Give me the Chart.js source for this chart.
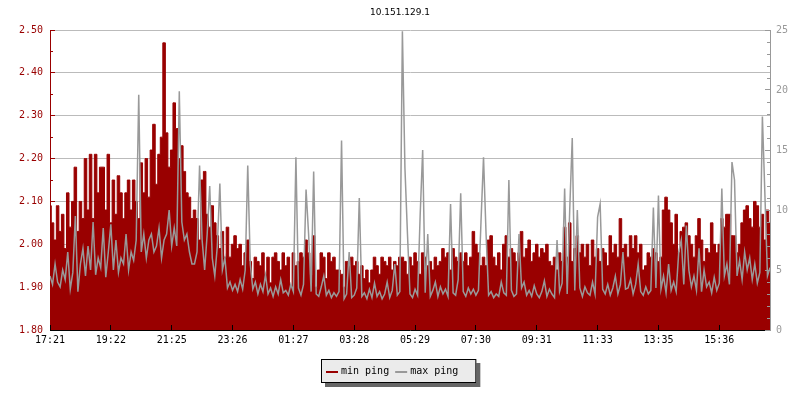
<!DOCTYPE html>
<html>
<head>
<meta charset="utf-8">
<title>10.151.129.1</title>
<script src="https://cdn.jsdelivr.net/npm/chart.js@4.4.1/dist/chart.umd.min.js"></script>
<style>
  html, body { margin: 0; padding: 0; background: #fff; }
</style>
</head>
<body>
<canvas id="ping" width="800" height="400"></canvas>
<script>
// ping history for one host, one sample every ~5 min
const hostName = '10.151.129.1';
const timeLabels = ['17:21', '19:22', '21:25', '23:26', '01:27', '03:28',
                    '05:29', '07:30', '09:31', '11:33', '13:35', '15:36'];
const samplesPerLabel = 24;

// min ping, left axis (ms)
const minPing = [
  2.09, 2.05, 2.01, 2.09, 2.03, 2.07, 1.99, 2.12, 2.04, 2.10,
  2.18, 2.03, 2.10, 2.06, 2.20, 2.08, 2.21, 2.06, 2.21, 2.12,
  2.18, 2.18, 2.08, 2.21, 2.05, 2.15, 2.07, 2.16, 2.12, 2.06,
  2.12, 2.15, 2.08, 2.15, 2.10, 2.06, 2.19, 2.12, 2.20, 2.11,
  2.22, 2.28, 2.14, 2.21, 2.25, 2.47, 2.26, 2.18, 2.22, 2.33,
  2.27, 2.20, 2.23, 2.17, 2.12, 2.11, 2.06,
  2.08, 2.06, 2.01, 2.15, 2.17, 2.07, 2.04, 2.09, 2.05, 2.02,
  1.99, 2.03, 1.97, 2.04, 1.97, 2.00, 2.02, 1.99, 2.00, 1.95,
  1.98, 2.01, 1.96, 1.92, 1.97, 1.96, 1.95, 1.98, 1.93, 1.97,
  1.91, 1.97, 1.98, 1.96, 1.94, 1.98, 1.95, 1.97, 1.90, 1.98,
  1.95, 1.96, 1.98, 1.97, 2.01, 1.98, 1.93, 2.02, 1.90, 1.94,
  1.98, 1.97, 1.92, 1.98, 1.96, 1.97, 1.94,
  1.94, 1.93, 1.90, 1.96, 1.95, 1.97, 1.95, 1.96, 1.93, 1.95,
  1.92, 1.94, 1.91, 1.94, 1.97, 1.95, 1.93, 1.97, 1.96, 1.95,
  1.97, 1.94, 1.96, 1.95, 1.97, 1.97, 1.96, 1.93, 1.97, 1.95,
  1.98, 1.96, 1.93, 1.98, 1.97, 1.95, 1.96, 1.94, 1.97, 1.95,
  1.96, 1.99, 1.97, 1.98, 1.94, 1.99, 1.97, 1.96, 1.98, 1.96,
  1.98, 1.95, 1.97, 2.03, 2.00, 1.98, 1.95,
  1.97, 1.95, 2.01, 2.02, 1.97, 1.95, 1.98, 1.94, 2.00, 2.02,
  1.97, 1.99, 1.98, 1.96, 1.98, 2.03, 1.97, 1.99, 2.01, 1.96,
  1.98, 2.00, 1.97, 1.99, 1.98, 2.00, 1.96, 1.95, 1.97, 1.94,
  1.98, 1.96, 2.04, 1.97, 2.05, 1.96, 1.99, 2.02, 1.98, 2.00,
  1.97, 2.00, 1.95, 2.01, 1.97, 1.99, 1.96, 1.99, 1.98, 1.95,
  2.02, 1.98, 2.00, 1.97, 2.06, 1.99, 2.00,
  1.97, 2.02, 1.99, 2.02, 1.98, 2.00, 1.94, 1.95, 1.98, 1.97,
  1.99, 1.98, 1.96, 1.97, 2.08, 2.11, 2.08, 2.05, 2.00, 2.07,
  1.98, 2.03, 2.04, 2.05, 2.02, 2.00, 1.97, 2.02, 2.06, 2.01,
  1.96, 1.99, 1.98, 2.05, 2.00, 1.98, 2.00, 2.06, 2.04, 2.07,
  2.07, 2.02, 2.02, 1.98, 2.00, 2.05, 2.08, 2.09, 2.06, 2.04,
  2.10, 2.09, 2.04, 2.07, 2.01, 2.08, 2.05
];

// max ping, right axis (ms)
const maxPing = [
  4.5, 3.8, 5.5, 4.0, 3.6, 5.0, 4.2, 6.5, 3.4, 4.8,
  9.5, 3.2, 5.5, 6.8, 4.5, 7.0, 5.0, 9.0, 4.6, 6.0,
  5.2, 8.5, 4.4, 6.5, 8.8, 5.0, 7.5, 4.8, 6.0, 5.5,
  8.0, 5.0, 6.5, 5.8, 7.5, 19.6, 6.5, 8.0, 6.0, 7.5,
  8.0, 6.5, 7.0, 8.5, 6.0, 7.5, 8.0, 10.0, 7.0, 8.5,
  7.0, 19.9, 9.0, 7.5, 8.0, 6.5, 5.5,
  5.5, 6.5, 13.7, 7.5, 5.0, 8.0, 12.0, 6.0, 4.5, 7.0,
  12.2, 5.0, 6.0, 3.5, 4.0, 3.3, 3.8, 3.2, 4.2, 3.4,
  5.0, 13.7, 5.5, 3.4, 4.0, 3.0, 3.8, 3.2, 4.6, 3.0,
  3.5, 2.8, 3.6, 3.0, 4.2, 3.1, 3.3, 2.9, 3.8, 3.2,
  14.4, 3.5, 2.9, 3.8, 11.7, 8.0, 3.2, 13.2, 3.0, 2.8,
  3.6, 4.5, 2.9, 3.3, 2.7, 3.1, 2.8,
  3.2, 15.8, 2.6, 3.0, 6.5, 2.7, 2.9, 3.5, 11.0, 2.8,
  3.1, 2.6, 3.4, 2.7, 3.9, 2.8, 3.2, 2.6, 3.0, 4.0,
  2.7, 3.3, 5.5, 2.9, 3.2, 24.9, 13.5, 8.0, 3.0, 2.7,
  3.4, 2.9, 9.5, 15.0, 3.1, 8.0, 2.8, 3.3, 4.0, 2.8,
  3.6, 3.0, 3.4, 2.8, 10.5, 3.1, 2.9, 4.2, 11.4, 3.2,
  2.8, 3.5, 3.0, 3.4, 2.9, 3.3, 9.0,
  14.4, 8.0, 2.9, 3.2, 2.7, 3.0, 2.8, 4.0, 3.1, 2.9,
  12.5, 3.3, 2.8, 3.0, 8.0, 3.5, 4.0, 2.9, 3.3, 2.8,
  3.7, 3.0, 2.7, 3.2, 4.1, 2.8, 3.4, 3.0, 2.7, 7.5,
  3.2, 3.9, 11.8, 3.0, 10.0, 16.0, 3.3, 10.0, 3.5, 2.8,
  3.6, 3.1, 2.9, 4.0, 3.0, 9.4, 10.5, 3.4, 3.0, 3.8,
  2.9, 3.5, 4.5, 3.0, 3.8, 6.5, 3.4,
  3.5, 4.2, 3.0, 3.8, 5.5, 3.2, 2.9, 3.6, 3.0, 3.3,
  10.2, 3.5, 11.2, 3.4, 4.5, 3.1, 5.5, 3.3, 4.0, 3.2,
  6.5, 7.5, 3.8, 8.7, 5.0, 3.6, 4.5, 3.3, 6.8, 3.2,
  5.0, 3.6, 4.0, 3.1, 4.4, 3.3, 3.9, 11.8, 4.5, 5.5,
  3.8, 14.0, 12.5, 4.5, 5.8, 4.2, 6.5, 5.0, 6.0, 4.2,
  5.5, 3.9, 4.8, 17.8, 11.2, 4.5, 5.2
];

const RED = '#990000';
const GRAY = '#999999';
const MONO = '"DejaVu Sans Mono", monospace';

Chart.defaults.font.family = MONO;
Chart.defaults.font.size = 10;

// small inner ticks between the labelled ones
const minorTicks = {
  id: 'minorTicks',
  afterDraw(chart) {
    const { ctx, scales } = chart;
    ctx.save();
    ctx.lineWidth = 1;
    ctx.strokeStyle = RED;
    for (let v = 1.85; v < 2.5; v += 0.1) {
      const y = Math.round(scales.y.getPixelForValue(v)) + 0.5;
      ctx.beginPath();
      ctx.moveTo(scales.y.right, y);
      ctx.lineTo(scales.y.right + 3, y);
      ctx.stroke();
    }
    ctx.strokeStyle = GRAY;
    for (let v = 1; v < 25; v++) {
      if (v % 5 === 0) continue;
      const y = Math.round(scales.y1.getPixelForValue(v)) + 0.5;
      ctx.beginPath();
      ctx.moveTo(scales.y1.left, y);
      ctx.lineTo(scales.y1.left - 3, y);
      ctx.stroke();
    }
    ctx.restore();
  }
};

// boxed legend with a drop shadow, under the plot
const legendBox = {
  id: 'legendBox',
  afterDraw(chart) {
    const ctx = chart.ctx;
    ctx.save();
    ctx.font = '10px ' + MONO;
    const items = chart.data.datasets.map(d => ({
      text: d.label, color: d.borderColor, w: ctx.measureText(d.label).width
    }));
    const swatch = 12, gap = 3, sep = 6, padL = 5, padR = 18;
    let w = padL + padR + sep * (items.length - 1);
    items.forEach(it => { w += swatch + gap + it.w; });
    const h = 24;
    const x0 = Math.round(398.5 - w / 2), y0 = 359;

    ctx.fillStyle = '#666666';
    ctx.fillRect(x0 + 4, y0 + 4, w, h);
    ctx.fillStyle = '#ebebeb';
    ctx.fillRect(x0, y0, w, h);
    ctx.strokeStyle = '#000';
    ctx.lineWidth = 1;
    ctx.strokeRect(x0 + 0.5, y0 + 0.5, w - 1, h - 1);

    let x = x0 + padL;
    const cy = y0 + 13;
    ctx.textBaseline = 'middle';
    items.forEach(it => {
      ctx.strokeStyle = it.color;
      ctx.lineWidth = 2;
      ctx.beginPath();
      ctx.moveTo(x, cy);
      ctx.lineTo(x + swatch, cy);
      ctx.stroke();
      x += swatch + gap;
      ctx.fillStyle = '#000';
      ctx.fillText(it.text, x, cy - 0.5);
      x += it.w + sep;
    });
    ctx.restore();
  }
};

new Chart(document.getElementById('ping'), {
  type: 'line',
  data: {
    labels: minPing.map((_, i) => i),
    datasets: [
      {
        label: 'min ping',
        data: minPing,
        yAxisID: 'y',
        borderColor: RED,
        backgroundColor: RED,
        borderWidth: 1,
        fill: 'start',
        stepped: 'middle',
        pointRadius: 0,
        order: 2
      },
      {
        label: 'max ping',
        data: maxPing,
        yAxisID: 'y1',
        borderColor: GRAY,
        borderWidth: 1.5,
        fill: false,
        tension: 0,
        pointRadius: 0,
        order: 1
      }
    ]
  },
  options: {
    responsive: false,
    devicePixelRatio: 1,
    animation: false,
    events: [],
    layout: { padding: 0 },
    plugins: {
      legend: { display: false },
      tooltip: { enabled: false },
      title: {
        display: true,
        text: hostName,
        color: '#000',
        font: { family: '"DejaVu Sans", sans-serif', size: 9, weight: 'normal' },
        padding: { top: 7, bottom: 12.2 }
      }
    },
    scales: {
      x: {
        type: 'linear',
        min: 0,
        max: minPing.length - 1,
        afterFit: s => { s.height = 70; },
        border: { color: '#000', z: 1 },
        grid: { drawOnChartArea: false, tickLength: -5, tickColor: '#000', z: 1 },
        ticks: {
          stepSize: samplesPerLabel,
          includeBounds: false,
          autoSkip: false,
          maxRotation: 0,
          padding: 9,
          color: '#000',
          callback: v => timeLabels[v / samplesPerLabel] || ''
        }
      },
      y: {
        position: 'left',
        min: 1.8,
        max: 2.5,
        afterFit: s => { s.width = 50; },
        border: { color: RED },
        grid: { color: '#bbbbbb', tickColor: RED, tickLength: -5 },
        ticks: {
          stepSize: 0.1,
          padding: 12,
          color: RED,
          callback: v => v.toFixed(2)
        }
      },
      y1: {
        position: 'right',
        min: 0,
        max: 25,
        afterFit: s => { s.width = 30; },
        border: { color: GRAY, z: 1 },
        grid: { drawOnChartArea: false, tickColor: GRAY, tickLength: -5, z: 1 },
        ticks: { stepSize: 5, padding: 11, color: GRAY }
      }
    }
  },
  plugins: [minorTicks, legendBox]
});
</script>
</body>
</html>
